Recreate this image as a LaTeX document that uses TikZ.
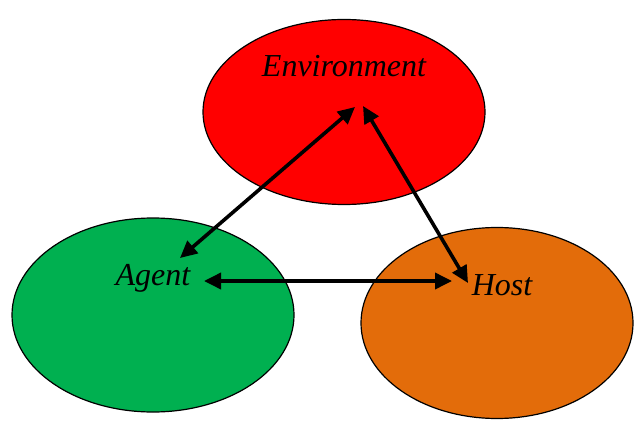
\documentclass[tikz,border=0pt]{standalone}
\usepackage{fontspec}
\setmainfont{Liberation Serif}
\usepackage{tikz}
\usetikzlibrary{arrows.meta}
\usetikzlibrary{shapes.geometric}

\definecolor{envred}{RGB}{255,0,0}
\definecolor{agentgreen}{RGB}{0,176,80}
\definecolor{hostorange}{RGB}{227,108,10}

\tikzset{
  blob/.style={ellipse,draw=black,line width=1.2pt,inner sep=0pt},
  lbl/.style={anchor=base,inner sep=0pt,font=\fontsize{32}{38}\selectfont\itshape},
  link/.style={<->,line width=3.6pt}
}

\begin{document}
\begin{tikzpicture}[line cap=butt,line join=miter,>={Triangle[length=17pt,width=16pt]},x=1pt,y=1pt]
\useasboundingbox (0,0) rectangle (634,421);

\node[blob,fill=envred,minimum width=282pt,minimum height=185pt] (envblob) at (344,309) {};
\node[blob,fill=agentgreen,minimum width=282pt,minimum height=194pt] (agentblob) at (153,106) {};
\node[blob,fill=hostorange,minimum width=272pt,minimum height=191pt] (hostblob) at (497,98) {};

\node[lbl] (envtxt) at (344,344) {Environment};
\node[lbl] (agenttxt) at (153,136) {Agent};
\node[lbl] (hosttxt) at (502,126) {Host};

\coordinate (envL) at (355,314);
\coordinate (envR) at (363,315);
\coordinate (agentT) at (180,163);
\coordinate (agentR) at (204,140);
\coordinate (hostL) at (452,140);
\coordinate (hostT) at (468,138);

\draw [link] (agentT)-- (envL);
\draw [link] (envR)-- (hostT);
\draw [link] (agentR)-- (hostL);
\end{tikzpicture}
\end{document}
